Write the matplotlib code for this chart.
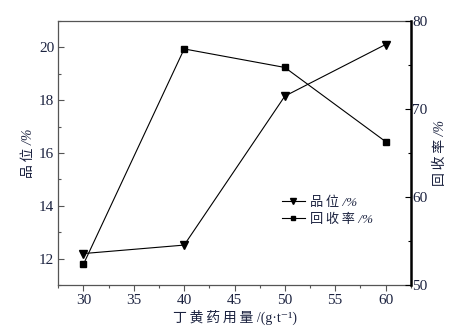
#!/usr/bin/env python3
"""Grade and recovery versus butyl xanthate dosage (twin y axes)."""

import matplotlib

matplotlib.use("Agg")
import matplotlib.pyplot as plt
from matplotlib.ticker import MultipleLocator

# dosage of butyl xanthate, g/t
dosage = [30, 40, 50, 60]
# grade, % (left axis)
grade = [12.2, 12.52, 18.15, 20.1]
# recovery, % (right axis)
recovery = [52.4, 76.8, 74.7, 66.3]

x_ticks = [30, 35, 40, 45, 50, 55, 60]
grade_ticks = [12, 14, 16, 18, 20]
recovery_ticks = [50, 60, 70, 80]

TXT = "#1c2340"
SERIF = ["Liberation Serif", "Noto Sans CJK SC", "DejaVu Serif"]
HS = "\u2009"  # small gap between the CJK characters

plt.rcParams["font.family"] = SERIF

fig = plt.figure(figsize=(4.75, 3.34), dpi=100)
ax = fig.add_axes([0.1228, 0.1458, 0.7418, 0.7922])
ax2 = ax.twinx()

l1, = ax.plot(dosage, grade, color="k", lw=0.8, marker="v", ms=5.5,
              label=HS.join("品位") + " /%")
l2, = ax2.plot(dosage, recovery, color="k", lw=0.8, marker="s", ms=4,
               label=HS.join("回收率") + " /%")

ax.set_xlim(27.5, 62.5)
ax.set_ylim(11, 21)
ax2.set_ylim(50, 80)

ax.set_xticks(x_ticks)
ax.xaxis.set_minor_locator(MultipleLocator(2.5))
ax.set_yticks(grade_ticks)
ax.yaxis.set_minor_locator(MultipleLocator(1))
ax2.set_yticks(recovery_ticks)
ax2.yaxis.set_minor_locator(MultipleLocator(5))

for sp in ["top", "left", "bottom"]:
    ax.spines[sp].set_color("#555555")
    ax.spines[sp].set_linewidth(0.9)
    ax2.spines[sp].set_visible(False)
ax.spines["right"].set_visible(False)
ax2.spines["right"].set_color("k")
ax2.spines["right"].set_linewidth(1.8)

ax.tick_params(axis="x", which="major", direction="out", length=4, width=0.8,
               color="#555555", labelsize=11, labelcolor=TXT, pad=2)
ax.tick_params(axis="x", which="minor", direction="out", length=2.5, width=0.8,
               color="#555555")
ax.tick_params(axis="y", which="major", direction="in", length=4, width=0.8,
               color="#555555", labelsize=11, labelcolor=TXT, pad=3)
ax.tick_params(axis="y", which="minor", direction="in", length=2.5, width=0.8,
               color="#555555")
ax2.tick_params(axis="y", which="major", direction="in", length=4, width=0.8,
                color="k", labelsize=11, labelcolor=TXT, pad=1)
ax2.tick_params(axis="y", which="minor", direction="in", length=2.5, width=0.8,
                color="k")

ax.set_xlabel(HS.join("丁黄药用量") + " /(g·t⁻¹)", fontsize=10, color=TXT, labelpad=2)
ax.set_ylabel(HS.join("品位") + " /%", fontsize=10, color=TXT, labelpad=3,
              fontstyle="italic")
ax2.set_ylabel(HS.join("回收率") + " /%", fontsize=10, color=TXT, rotation=90,
               labelpad=5, fontstyle="italic")

leg = ax2.legend(handles=[l1, l2], loc="upper left", bbox_to_anchor=(0.634, 0.335),
                 frameon=False, prop={"size": 9.5, "style": "italic"},
                 handlelength=1.75, handletextpad=0.4, markerscale=0.8,
                 labelspacing=0.35, borderaxespad=0, borderpad=0)
for t in leg.get_texts():
    t.set_color(TXT)

fig.savefig("out.png", dpi=100)
